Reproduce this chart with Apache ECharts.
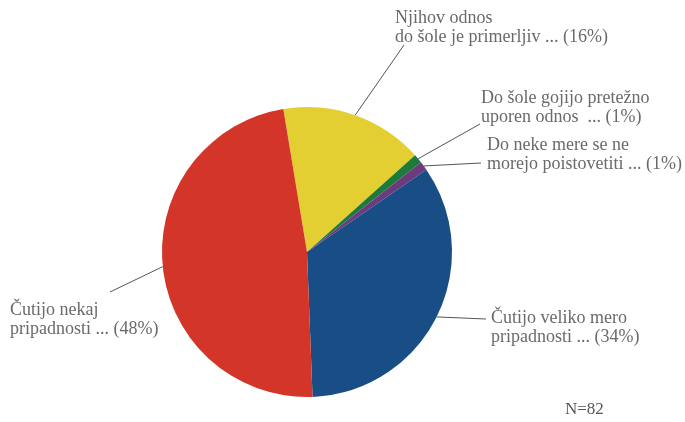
<!DOCTYPE html>
<html>
<head>
<meta charset="utf-8">
<script src="https://cdn.jsdelivr.net/npm/echarts@6/dist/echarts.min.js"></script>
<style>
html,body{margin:0;padding:0;background:#fff;}
#chart{width:685px;height:422px;}
</style>
</head>
<body>
<div id="chart"></div>
<script>
// Data
var categories = [
  'Njihov odnos\ndo šole je primerljiv',
  'Do šole gojijo pretežno\nuporen odnos ',
  'Do neke mere se ne\nmorejo poistovetiti',
  'Čutijo veliko mero\npripadnosti',
  'Čutijo nekaj\npripadnosti'
];
var percents = [16, 1, 1, 34, 48];
var sampleNote = 'N=82';

// Presentation
var colors = ['#E4CF33', '#1C7A3B', '#6C3B7B', '#184D86', '#D33629'];
var labelPos = [
  {x: 395, y: 9,   endDx: 9,  endDy: 36},
  {x: 481, y: 89,  endDx: -1, endDy: 35},
  {x: 487, y: 136, endDx: -6, endDy: 27},
  {x: 491, y: 309, endDx: -5, endDy: 10},
  {x: 10,  y: 301, endDx: 100, endDy: -9}
];

var chart = echarts.init(document.getElementById('chart'));
var data = categories.map(function (c, i) {
  return {name: c, value: percents[i], itemStyle: {color: colors[i]}};
});

chart.setOption({
  animation: false,
  backgroundColor: '#fff',
  graphic: [{
    type: 'text',
    left: 565,
    top: 401,
    style: {text: sampleNote, font: '17px "Liberation Serif"', fill: '#555'}
  }],
  series: [{
    type: 'pie',
    center: [307, 252],
    radius: 145,
    startAngle: 99.4,
    clockwise: true,
    avoidLabelOverlap: false,
    data: data,
    itemStyle: {borderWidth: 0},
    label: {
      show: true,
      position: 'outside',
      formatter: function (p) { return p.name + ' ... (' + percents[p.dataIndex] + '%)'; },
      fontFamily: 'Liberation Serif',
      fontSize: 18,
      lineHeight: 19,
      color: '#6a6a6a',
      align: 'left'
    },
    labelLine: {
      show: true,
      length: 20,
      length2: 0,
      lineStyle: {color: '#555', width: 1}
    },
    labelLayout: function (params) {
      var lp = labelPos[params.dataIndex];
      var start = params.labelLinePoints ? params.labelLinePoints[0] : [0, 0];
      return {
        x: lp.x,
        y: lp.y,
        align: 'left',
        verticalAlign: 'top',
        labelLinePoints: [start, [lp.x + lp.endDx, lp.y + lp.endDy]]
      };
    },
    emphasis: {disabled: true}
  }]
});
</script>
</body>
</html>
